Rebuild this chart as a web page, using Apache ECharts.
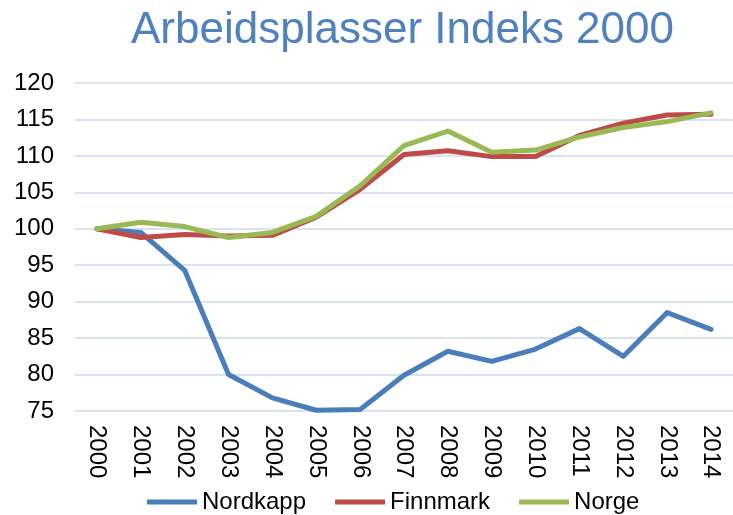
<!DOCTYPE html>
<html>
<head>
<meta charset="utf-8">
<script src="https://cdn.jsdelivr.net/npm/echarts@6/dist/echarts.min.js"></script>
<style>html,body{margin:0;padding:0;background:#fff}#c{width:733px;height:515px}</style>
</head>
<body>
<div id="c"></div>
<script>
var categories = ['2000','2001','2002','2003','2004','2005','2006','2007','2008','2009','2010','2011','2012','2013','2014'];
var nordkapp = [100, 99.5, 94.3, 80.0, 76.8, 75.1, 75.2, 79.9, 83.2, 81.8, 83.5, 86.3, 82.5, 88.5, 86.2];
var finnmark = [100, 98.8, 99.2, 99.0, 99.1, 101.6, 105.4, 110.2, 110.7, 109.9, 109.9, 112.8, 114.5, 115.6, 115.7];
var norge = [100, 100.9, 100.3, 98.8, 99.5, 101.7, 105.9, 111.4, 113.4, 110.5, 110.8, 112.6, 113.9, 114.7, 115.9];
var yTicks = [75, 80, 85, 90, 95, 100, 105, 110, 115, 120];
var seriesNames = ['Nordkapp', 'Finnmark', 'Norge'];
var colors = ['#4a7ebb', '#be4b48', '#98b954'];

var font = '"Liberation Sans", Arial, sans-serif';
var chart = echarts.init(document.getElementById('c'), null, {renderer: 'canvas'});
function mk(name, data, color) {
  return {
    name: name, type: 'line', data: data, symbol: 'none', smooth: false,
    lineStyle: {color: color, width: 5, cap: 'round', join: 'round'},
    itemStyle: {color: color},
    emphasis: {disabled: true}, animation: false
  };
}
chart.setOption({
  animation: false,
  title: {
    text: 'Arbeidsplasser Indeks 2000',
    left: 126, top: 4,
    textStyle: {color: '#4f81bd', fontSize: 44, fontWeight: 'normal', fontFamily: font}
  },
  grid: {left: 75, right: -11, top: 83, bottom: 104, containLabel: false},
  legend: {
    data: seriesNames,
    left: 142, top: 485,
    itemWidth: 50, itemHeight: 5, itemGap: 29,
    textStyle: {fontSize: 24, color: '#000', fontFamily: font},
    icon: 'path://M0,0 L50,0 L50,5 L0,5 Z'
  },
  xAxis: {
    type: 'category', data: categories, boundaryGap: true,
    axisLine: {show: false}, axisTick: {show: false},
    axisLabel: {rotate: -90, fontSize: 24, color: '#000', fontFamily: font, margin: 14, interval: 0}
  },
  yAxis: {
    type: 'value', min: yTicks[0], max: yTicks[yTicks.length - 1], interval: 5,
    axisLine: {show: false}, axisTick: {show: false},
    axisLabel: {fontSize: 24, color: '#000', fontFamily: font, margin: 21},
    splitLine: {lineStyle: {color: '#d9e2ef', width: 2}}
  },
  series: [mk(seriesNames[0], nordkapp, colors[0]), mk(seriesNames[1], finnmark, colors[1]), mk(seriesNames[2], norge, colors[2])]
});
</script>
</body>
</html>
